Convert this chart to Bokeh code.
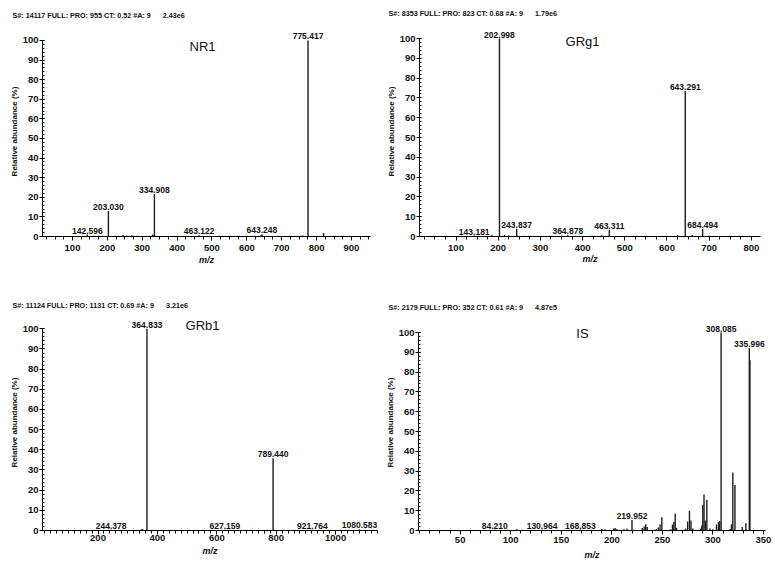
import re
from bokeh.plotting import figure
from bokeh.models import Label, SingleIntervalTicker, ColumnDataSource, Range1d
from bokeh.layouts import column, row
from bokeh.embed import file_html
from bokeh.resources import INLINE
from bokeh.core.properties import value

FONT = "Liberation Sans"
NB = "\u00a0"

# ---------------- data ----------------
# NR1
nr1_header = "S#: 14117 FULL: PRO: 955 CT: 0.52 #A: 9      2.43e6"
nr1_label_mz = [142.596, 203.030, 334.908, 463.122, 643.248, 775.417]
nr1_label_int = [1.0, 13.0, 21.7, 0.6, 1.2, 100.0]
nr1_minor_mz = [120, 160, 175, 185, 245, 255, 270, 285, 300, 330, 345, 420, 600, 640, 760, 820]
nr1_minor_int = [0.3, 0.4, 0.5, 0.4, 0.8, 0.5, 0.6, 0.4, 0.3, 1.0, 0.3, 0.3, 0.3, 0.6, 0.5, 1.8]

# GRg1
grg1_header = "S#: 8353 FULL: PRO: 823 CT: 0.68 #A: 9      1.79e6"
grg1_label_mz = [143.181, 202.998, 243.837, 364.878, 463.311, 643.291, 684.494]
grg1_label_int = [0.5, 100.0, 3.9, 0.8, 3.4, 73.5, 3.9]
grg1_minor_mz = [185, 215, 225, 260, 320, 350, 420, 445, 625, 660, 700]
grg1_minor_int = [0.8, 0.8, 0.6, 0.4, 0.3, 0.5, 0.4, 0.6, 0.8, 0.6, 0.4]

# GRb1
grb1_header = "S#: 11124 FULL: PRO: 1131 CT: 0.69 #A: 9      3.21e6"
grb1_label_mz = [244.378, 364.833, 627.159, 789.440, 921.764, 1080.583]
grb1_label_int = [0.4, 100.0, 0.4, 35.8, 0.4, 0.5]
grb1_minor_mz = [345, 350, 700, 770]
grb1_minor_int = [0.5, 0.8, 0.3, 0.4]

# IS
is_header = "S#: 2179 FULL: PRO: 352 CT: 0.61 #A: 9      4.87e5"
is_label_mz = [84.210, 130.964, 168.853, 219.952, 308.085, 335.996]
is_label_int = [0.4, 0.4, 0.5, 5.3, 100.0, 92.0]
is_minor_mz = [106, 190, 193, 201.6, 203.3, 205, 212, 215, 230, 232, 233.5, 235, 244, 246,
               247.7, 249.5, 258, 260, 261.3, 262.7, 264, 273, 275, 276.8, 278.3, 280, 288,
               289, 290, 291.2, 292.5, 294, 297, 300, 303.5, 305.5, 306.7, 317, 318.3, 319.7,
               321.8, 329, 332.6, 336.6]
is_minor_int = [0.6, 0.8, 0.6, 1.0, 1.3, 0.8, 0.6, 1.0, 1.2, 2.0, 3.2, 1.8, 0.8, 1.5,
                3.0, 6.7, 0.6, 3.0, 4.3, 8.4, 1.2, 1.0, 4.5, 10.0, 5.0, 1.0, 1.0,
                2.5, 13.0, 18.2, 5.0, 15.5, 1.0, 0.6, 3.0, 4.3, 4.8, 0.8, 3.2, 29.3,
                23.0, 1.8, 3.6, 86.0]

y_label = "Relative abundance (%)"
x_label = "m/z"


def nbsp(s):
    return re.sub(r" {2,}", lambda m: NB * len(m.group(0)), s)


def header_strip(width, height, items):
    h = figure(width=width, height=height, x_range=Range1d(0, width), y_range=Range1d(0, height),
               output_backend="svg", toolbar_location=None, min_border=0,
               x_axis_location=None, y_axis_location=None)
    h.outline_line_color = None
    h.xgrid.visible = False
    h.ygrid.visible = False
    for (txt, x, y) in items:
        h.add_layout(Label(x=x, y=y, x_units="screen", y_units="screen", text=nbsp(txt),
                           text_font=FONT, text_font_size="7.2px", text_font_style="bold",
                           text_baseline="middle", text_color="#111111"))
    return h


def panel(title, lab_mz, lab_int, min_mz, min_int, xr, y_end, x_int, x_minor,
          size, borders, title_xy, tick_std, lab_std):
    bl, br, bt, bb = borders
    p = figure(width=size[0], height=size[1], x_range=xr, y_range=(0, y_end),
               output_backend="svg", toolbar_location=None,
               min_border_left=bl, min_border_right=br, min_border_top=bt, min_border_bottom=bb)
    p.outline_line_color = None
    p.xgrid.visible = False
    p.ygrid.visible = False
    p.background_fill_color = "white"
    p.border_fill_color = "white"

    # peaks
    all_mz = list(min_mz) + list(lab_mz)
    all_int = list(min_int) + list(lab_int)
    src = ColumnDataSource(dict(mz=all_mz, inten=all_int, base=[0] * len(all_mz)))
    p.segment(x0="mz", y0="base", x1="mz", y1="inten", source=src,
              line_color="#1e1e1e", line_width=1.4)

    lsrc = ColumnDataSource(dict(mz=lab_mz, inten=lab_int,
                                 label=[f"{m:.3f}" for m in lab_mz]))
    p.text(x="mz", y="inten", text="label", source=lsrc, text_align="center",
           text_baseline="bottom", y_offset=-1, text_font=value(FONT),
           text_font_size="8.5px", text_font_style="bold", text_color="#111111")

    # axes
    xa = p.xaxis[0]
    xa.ticker = SingleIntervalTicker(interval=x_int, num_minor_ticks=x_minor)
    ya = p.yaxis[0]
    ya.ticker = SingleIntervalTicker(interval=10, num_minor_ticks=5)
    ya.bounds = (0, 100)
    for ax in (xa, ya):
        ax.axis_line_color = "black"
        ax.axis_line_width = 1
        ax.major_tick_line_color = "black"
        ax.minor_tick_line_color = "black"
        ax.major_label_text_font = FONT
        ax.major_label_text_font_size = "9.5px"
        ax.major_label_text_font_style = "bold"
        ax.major_label_text_color = "#111111"
        ax.axis_label_text_font = FONT
        ax.axis_label_text_color = "#111111"
    xa.major_tick_out = 4
    xa.major_tick_in = 0
    xa.minor_tick_out = 3
    xa.minor_tick_in = 0
    xa.major_label_standoff = tick_std
    xa.axis_label = x_label
    xa.axis_label_text_font_size = "9px"
    xa.axis_label_text_font_style = "bold italic"
    xa.axis_label_standoff = lab_std

    ya.major_tick_out = 3
    ya.major_tick_in = 2
    ya.minor_tick_out = 0
    ya.minor_tick_in = 2
    ya.major_label_standoff = 1
    ya.axis_label = y_label
    ya.axis_label_text_font_size = "8px"
    ya.axis_label_text_font_style = "bold"
    ya.axis_label_standoff = 1

    p.add_layout(Label(x=title_xy[0], y=title_xy[1], x_units="screen", y_units="screen",
                       text=title, text_font=FONT, text_font_size="13px",
                       text_align="center", text_baseline="middle", text_color="#111111"))
    return p


h1 = header_strip(772, 20, [(nr1_header, 12, 5), (grg1_header, 388, 7.3)])
p1 = panel("NR1", nr1_label_mz, nr1_label_int, nr1_minor_mz, nr1_minor_int,
           (14.0, 954.6), 107.1, 100, 4, (380, 264), (42, 10, 6, 48), (160, 190), 4, 1)
p2 = panel("GRg1", grg1_label_mz, grg1_label_int, grg1_minor_mz, grg1_minor_int,
           (13.5, 821.6), 106.1, 100, 4, (392, 264), (39, 12, 6, 48), (163, 195), 4, 0)
h2 = header_strip(772, 28, [(grb1_header, 12, 7), (is_header, 388, 5.3)])
p3 = panel("GRb1", grb1_label_mz, grb1_label_int, grb1_minor_mz, grb1_minor_int,
           (13.1, 1141.0), 107.1, 200, 10, (380, 255), (42, 3, 2, 37), (160, 205), 0, 2)
p4 = panel("IS", is_label_mz, is_label_int, is_minor_mz, is_minor_int,
           (8.8, 352.0), 109.1, 50, 5, (392, 255), (38, 7, 2, 37), (164, 197), 2, 4)

layout = column(h1, row(p1, p2), h2, row(p3, p4))
open("out.html", "w").write(file_html(layout, INLINE))
